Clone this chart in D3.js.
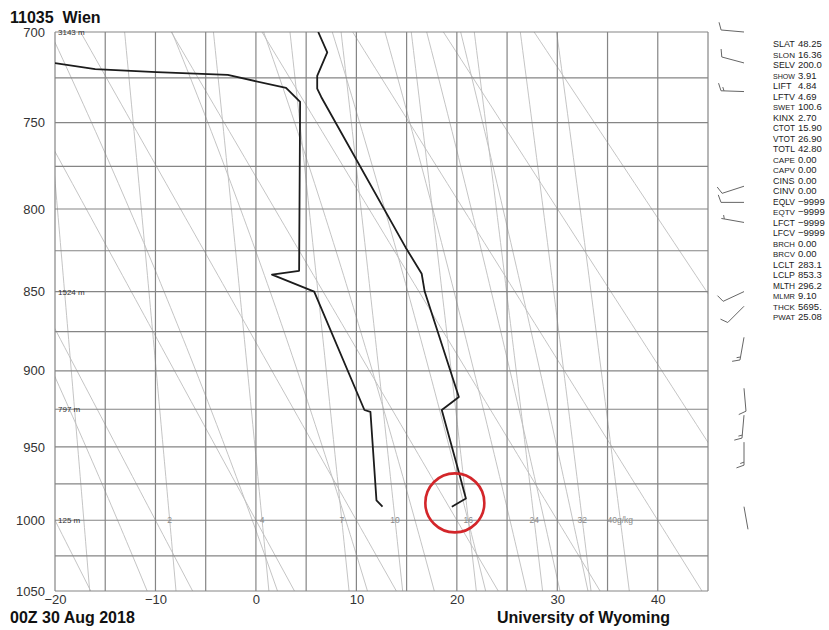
<!DOCTYPE html>
<html>
<head>
<meta charset="utf-8">
<script src="https://cdn.jsdelivr.net/npm/d3@7"></script>
<style>
  body { margin: 0; background: #fff; }
  svg { font-family: "Liberation Sans", Arial, sans-serif; }
</style>
</head>
<body>
<svg id="chart" width="829" height="630"></svg>
<script>
// ---- chart data -------------------------------------------------------
const stationName = '11035\u00a0 Wien';
const timeLabel = '00Z 30 Aug 2018';
const creditLabel = 'University of Wyoming';

const pressureTicks = [700, 750, 800, 850, 900, 950, 1000, 1050];
const isobars = [700, 725, 750, 775, 800, 825, 850, 875, 900, 925, 950, 975, 1000, 1025, 1050];
const tempTicks = [-20, -10, 0, 10, 20, 30, 40];
const isotherms = [-20, -15, -10, -5, 0, 5, 10, 15, 20, 25, 30, 35, 40, 45];

// background families of the Stuve diagram
const dryAdiabats = [-20, -10, 0, 10, 20, 30, 40, 50, 60];      // theta, degC
const moistAdiabats = [263, 283, 302, 321, 340, 359, 378, 397];  // theta-e, K
const mixingRatios = [1, 2, 4, 7, 10, 16, 24, 32, 40];           // g/kg
const mixingLabels = ['', '2', '4', '7', '10', '16', '24', '32', '40g/kg'];

// sounding (hPa, degC)
const tempP = [700, 711, 723.9, 731, 735.6, 823, 839, 850, 917, 925.5, 967, 985, 990.6];
const tempT = [6.2, 7.1, 6.1, 6.1, 6.5, 14.9, 16.5, 16.8, 20.2, 18.5, 20.2, 20.9, 19.5];
const dewP = [716.9, 720.2, 721.8, 723.4, 730.6, 738.3, 837.2, 839.6, 850, 925.5, 926.8, 986.3, 990.6];
const dewT = [-20, -16.0, -9.9, -2.8, 3.0, 4.4, 4.3, 1.6, 5.8, 10.8, 11.4, 12.0, 12.6];

const heightP = [700, 850, 925, 1000];
const heightText = ['3143 m', '1524 m', '797 m', '125 m'];

// winds (hPa, direction deg, knots)
const windP = [700, 716.8, 732.6, 786.6, 796.1, 808, 850, 859.1, 878.6, 911.3, 928.9, 946.8, 990.6];
const windDir = [275, 285, 272, 252, 270, 280, 245, 225, 190, 175, 185, 180, 170];
const windSpd = [10, 10, 15, 10, 10, 5, 10, 10, 15, 10, 15, 15, 2];

const indexNames = ['SLAT', 'SLON', 'SELV', 'SHOW', 'LIFT', 'LFTV', 'SWET', 'KINX', 'CTOT',
  'VTOT', 'TOTL', 'CAPE', 'CAPV', 'CINS', 'CINV', 'EQLV', 'EQTV', 'LFCT', 'LFCV', 'BRCH',
  'BRCV', 'LCLT', 'LCLP', 'MLTH', 'MLMR', 'THCK', 'PWAT'];
const indexValues = ['48.25', '16.36', '200.0', '3.91', '4.84', '4.69', '100.6', '2.70', '15.90',
  '26.90', '42.80', '0.00', '0.00', '0.00', '0.00', '\u22129999', '\u22129999', '\u22129999',
  '\u22129999', '0.00', '0.00', '283.1', '853.3', '296.2', '9.10', '5695.', '25.08'];

// red annotation circle (hPa, degC)
const markP = 988;
const markT = 19.8;

// ---- thermodynamics for the background lines ---------------------------
const satVap = (tc) => 6.112 * Math.exp(17.67 * tc / (tc + 243.5));
const mixr = (tc, p) => 622 * satVap(tc) / (p - satVap(tc));

function thetaE(tc, p) {
  const t = tc + 273.15;
  const r = mixr(tc, p);
  return t * Math.pow(1000 / p, 0.2854 * (1 - 0.00028 * r)) *
      Math.exp((3.376 / t - 0.00254) * r * (1 + 0.00081 * r));
}

function moistTemp(te, p) {
  let lo = -90;
  let hi = 60;
  for (let i = 0; i < 50; i++) {
    const mid = (lo + hi) / 2;
    if (thetaE(mid, p) > te) hi = mid; else lo = mid;
  }
  return (lo + hi) / 2;
}

function dewFromMixr(w, p) {
  const e = w * p / (622 + w);
  const l = Math.log(e / 6.112);
  return 243.5 * l / (17.67 - l);
}

// ---- layout ------------------------------------------------------------
const margin = {top: 32, right: 121, bottom: 39, left: 55};
const width = 829 - margin.left - margin.right;
const height = 630 - margin.top - margin.bottom;

const svg = d3.select('#chart');

const x = d3.scaleLinear().domain([-20, 45]).range([margin.left, margin.left + width]);
const y = d3.scalePow().exponent(0.286).domain([700, 1050])
    .range([margin.top, margin.top + height]);

svg.append('clipPath').attr('id', 'plot-clip')
    .append('rect')
    .attr('x', margin.left).attr('y', margin.top)
    .attr('width', width).attr('height', height);

const levels = d3.range(690, 1061, 5);
const line = d3.line().x((d) => x(d.t)).y((d) => y(d.p));

const bg = svg.append('g').attr('clip-path', 'url(#plot-clip)')
    .attr('fill', 'none').attr('stroke', '#bdbdbd').attr('stroke-width', 0.9);

bg.selectAll('.dry').data(dryAdiabats).enter()
    .append('path').attr('class', 'dry')
    .attr('d', (th) => line(levels.map((p) => ({
      p: p, t: (th + 273.15) * Math.pow(p / 1000, 0.286) - 273.15}))));

bg.selectAll('.moist').data(moistAdiabats).enter()
    .append('path').attr('class', 'moist')
    .attr('d', (te) => line(levels.map((p) => ({p: p, t: moistTemp(te, p)}))));

bg.selectAll('.mixr').data(mixingRatios).enter()
    .append('path').attr('class', 'mixr')
    .attr('d', (w) => line(levels.map((p) => ({p: p, t: dewFromMixr(w, p)}))));

// grid
const grid = svg.append('g').attr('stroke', '#858585').attr('stroke-width', 1.2);
grid.selectAll('.iso').data(isobars).enter().append('line')
    .attr('x1', margin.left).attr('x2', margin.left + width)
    .attr('y1', (p) => y(p)).attr('y2', (p) => y(p));
grid.selectAll('.itherm').data(isotherms).enter().append('line')
    .attr('x1', (t) => x(t)).attr('x2', (t) => x(t))
    .attr('y1', margin.top).attr('y2', margin.top + height);

// axes
const yAxis = svg.append('g')
    .attr('transform', 'translate(' + (margin.left - 10) + ',0)')
    .call(d3.axisLeft(y).tickValues(pressureTicks).tickSize(0).tickPadding(0)
        .tickFormat(d3.format('d')));
yAxis.select('.domain').remove();
yAxis.selectAll('text').attr('font-size', 13).attr('fill', '#333')
    .attr('font-family', '"Liberation Sans", Arial, sans-serif');

const xAxis = svg.append('g')
    .attr('transform', 'translate(0,' + (margin.top + height + 4) + ')')
    .call(d3.axisBottom(x).tickValues(tempTicks).tickSize(0).tickPadding(0));
xAxis.select('.domain').remove();
xAxis.selectAll('text').attr('font-size', 13).attr('fill', '#333')
    .attr('font-family', '"Liberation Sans", Arial, sans-serif');

// mixing ratio labels on the 1000 hPa line
svg.append('g').selectAll('text').data(mixingRatios).enter()
    .append('text')
    .attr('x', (w) => x(dewFromMixr(w, 1000)))
    .attr('y', y(1000) + 3)
    .attr('text-anchor', 'middle')
    .attr('font-size', 8.5).attr('fill', '#8c8c8c')
    .text((w, i) => mixingLabels[i]);

// heights
svg.append('g').selectAll('text').data(heightP).enter()
    .append('text')
    .attr('x', margin.left + 3)
    .attr('y', (p) => y(p) + 3)
    .attr('font-size', 8).attr('fill', '#333')
    .text((p, i) => heightText[i]);

// sounding profiles
const profile = d3.line().x((d) => x(d[1])).y((d) => y(d[0]));
const prof = svg.append('g').attr('clip-path', 'url(#plot-clip)')
    .attr('fill', 'none').attr('stroke', '#1c1c1c').attr('stroke-width', 1.8)
    .attr('stroke-linejoin', 'round');
prof.append('path').attr('d', profile(tempP.map((p, i) => [p, tempT[i]])));
prof.append('path').attr('d', profile(dewP.map((p, i) => [p, dewT[i]])));

// wind barbs
const barbX = margin.left + width + 36;
const staffLen = 23;
const barbs = svg.append('g').attr('stroke', '#666').attr('stroke-width', 1)
    .attr('fill', 'none');
windP.forEach((p, i) => {
  const a = windDir[i] * Math.PI / 180;
  const ux = Math.sin(a);
  const uy = -Math.cos(a);
  const bx = Math.cos(a);
  const by = Math.sin(a);
  const sx = barbX;
  const sy = y(p);
  const ex = sx + staffLen * ux;
  const ey = sy + staffLen * uy;
  const path = d3.path();
  path.moveTo(sx, sy);
  path.lineTo(ex, ey);
  let spd = windSpd[i];
  let pos = 0;
  while (spd >= 7.5) {
    const px = ex - pos * ux;
    const py = ey - pos * uy;
    path.moveTo(px, py);
    path.lineTo(px + 8 * (0.94 * bx + 0.34 * ux), py + 8 * (0.94 * by + 0.34 * uy));
    spd -= 10;
    pos += 3;
  }
  if (spd >= 2.5) {
    if (pos === 0) pos = 3;
    const px = ex - pos * ux;
    const py = ey - pos * uy;
    path.moveTo(px, py);
    path.lineTo(px + 4 * (0.94 * bx + 0.34 * ux), py + 4 * (0.94 * by + 0.34 * uy));
  }
  barbs.append('path').attr('d', path.toString());
});

// station indices
const idx = svg.append('g').attr('fill', '#222');
idx.selectAll('.name').data(indexNames).enter().append('text')
    .attr('class', 'name')
    .attr('x', 773).attr('y', (d, i) => 47 + i * 10.5)
    .attr('font-size', 9)
    .text((d) => d)
    .each(function() {
      // shrink wide labels so they stay clear of the value column
      const w = this.getComputedTextLength();
      if (w > 22) d3.select(this).attr('font-size', 9 * 22 / w);
    });
idx.selectAll('.val').data(indexValues).enter().append('text')
    .attr('class', 'val')
    .attr('x', 798).attr('y', (d, i) => 47 + i * 10.5)
    .attr('font-size', 9.5)
    .text((d) => d);

// red circle
svg.append('circle')
    .attr('cx', x(markT)).attr('cy', y(markP)).attr('r', 29.5)
    .attr('fill', 'none').attr('stroke', '#d3262a').attr('stroke-width', 2.6);

// titles
const titles = svg.append('g').attr('font-weight', 'bold').attr('font-size', 16)
    .attr('fill', '#111');
titles.append('text').attr('x', 10).attr('y', 23).text(stationName);
titles.append('text').attr('x', 10).attr('y', 623).text(timeLabel);
titles.append('text').attr('x', 497).attr('y', 623).text(creditLabel);
</script>
</body>
</html>
